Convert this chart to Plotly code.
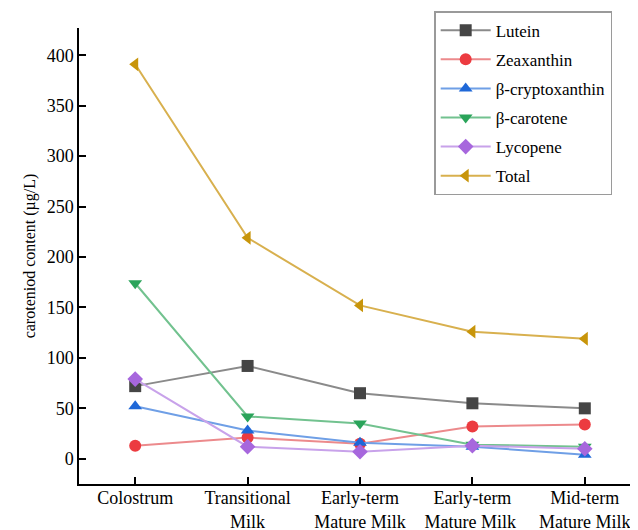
import plotly.graph_objects as go

categories = ["Colostrum", "Transitional<br>Milk", "Early-term<br>Mature Milk",
              "Early-term<br>Mature Milk ", "Mid-term<br>Mature Milk"]
lutein = [72, 92, 65, 55, 50]
zeaxanthin = [13, 21, 15, 32, 34]
cryptoxanthin = [52, 28, 16, 12, 4]
carotene = [174, 42, 35, 14, 12]
lycopene = [79, 12, 7, 13, 10]
total = [391, 219, 152, 126, 119]

series = [
    ("Lutein", lutein, "#454545", "#8a8a8a", "square"),
    ("Zeaxanthin", zeaxanthin, "#ec3b40", "#ec8a8c", "circle"),
    ("β-cryptoxanthin", cryptoxanthin, "#1f68d8", "#6f9fe6", "triangle-up"),
    ("β-carotene", carotene, "#2aa45a", "#72c28f", "triangle-down"),
    ("Lycopene", lycopene, "#a767dd", "#c8a2ea", "diamond"),
    ("Total", total, "#c8950a", "#d8b04e", "triangle-left"),
]

fig = go.Figure()
for i, (name, vals, mc, lc, sym) in enumerate(series):
    fig.add_trace(go.Scatter(
        x=list(range(len(categories))), y=vals, name=name, mode="lines+markers",
        line=dict(color=lc, width=2),
        marker=dict(color=mc, symbol=sym, size=12, line=dict(width=0)),
        legendgroup=f"g{i}",
    ))

font_family = "Liberation Serif, Times New Roman, serif"
fig.update_layout(
    width=638, height=530,
    margin=dict(l=71, r=5, t=20, b=54, autoexpand=False),
    paper_bgcolor="white", plot_bgcolor="white",
    font=dict(family=font_family, size=18, color="black"),
    showlegend=True,
    legend=dict(
        x=0.632, y=1.037, xanchor="left", yanchor="top",
        bgcolor="white", bordercolor="#9a9a9a", borderwidth=1.5,
        font=dict(size=17, family=font_family),
        tracegroupgap=4, traceorder="grouped",
        itemwidth=50,
    ),
    xaxis=dict(
        tickmode="array", tickvals=list(range(len(categories))), ticktext=categories,
        range=[-0.5, 4.5], showline=True, linecolor="black", linewidth=1.5,
        ticks="inside", ticklen=7, tickwidth=1.5, tickcolor="black",
        showgrid=False, zeroline=False, tickfont=dict(size=18),
        ticklabelstandoff=-3,
    ),
    yaxis=dict(
        range=[-25, 427], tickvals=[0, 50, 100, 150, 200, 250, 300, 350, 400],
        showline=True, linecolor="black", linewidth=1.5,
        ticks="inside", ticklen=7, tickwidth=1.5, tickcolor="black",
        showgrid=False, zeroline=False, tickfont=dict(size=18),
        title=dict(text="caroteniod content (µg/L)", font=dict(size=16), standoff=7),
    ),
)

fig.write_html("out.html")
